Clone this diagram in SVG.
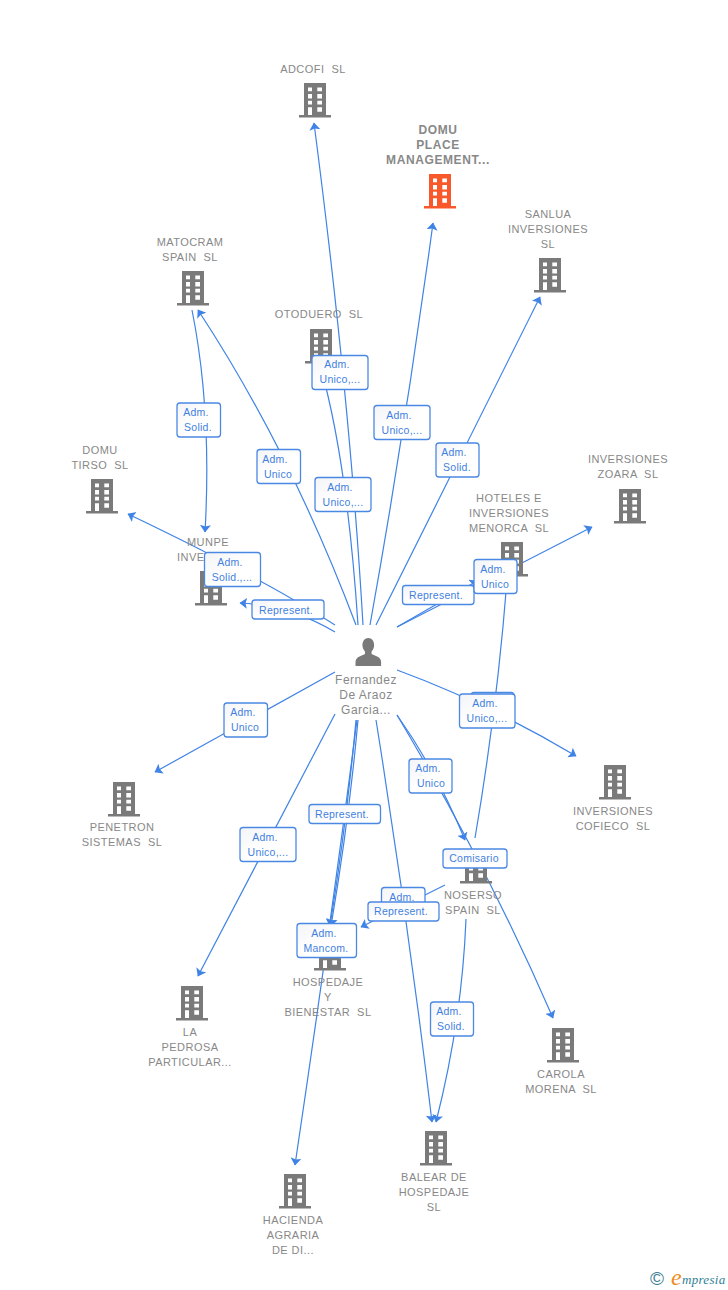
<svg xmlns="http://www.w3.org/2000/svg" width="728" height="1290" viewBox="0 0 728 1290">
<style>
.n{font:11px "Liberation Sans",Arial,sans-serif;fill:#888;text-anchor:middle;letter-spacing:.45px;white-space:pre}
.b{font:bold 12px "Liberation Sans",Arial,sans-serif;fill:#888;text-anchor:middle;letter-spacing:.6px}
.f{font:12px "Liberation Sans",Arial,sans-serif;fill:#888;text-anchor:middle;letter-spacing:.5px}
.c{fill:none;stroke:#3f83e6;stroke-width:1.2;marker-end:url(#a)}
.p{fill:none;stroke:#3f83e6;stroke-width:1.2}
.r{fill:url(#g);stroke:#4a88e4;stroke-width:1.3}
.t{font:10.500px "Liberation Sans",Arial,sans-serif;fill:#3f7fe0;text-anchor:middle;letter-spacing:.25px}
</style>
<defs>
<marker id="a" markerUnits="userSpaceOnUse" markerWidth="12" markerHeight="12" refX="7" refY="5.500" orient="auto"><path d="M0 0L7.500 5.500L0 11L1.500 5.500Z" fill="#3f83e6"/></marker>
<linearGradient id="g" x1="0" y1="0" x2="1" y2="1"><stop offset="0" stop-color="#f3f4f7"/><stop offset=".5" stop-color="#fff"/></linearGradient>
<path id="w" d="M9 4.500h4v3.700h-4zM18.300 4.500h4.700v3.700h-4.700zM9 11h4v4.500h-4zM18.300 11h4.700v4.500h-4.700zM9 17.700h4v3.700h-4zM18.300 17.700h4.700v3.700h-4.700zM9 24.300h4v7.700h-4zM18.300 24.300h4.700v4.400h-4.700z"/>
<g id="bd"><path d="M5 0h22v32h5v2.500h-32v-2.500h5z" fill="#7a7a7a"/><use href="#w" fill="#fff"/></g>
<g id="bo"><path d="M5 0h22v32h5v2.500h-32v-2.500h5z" fill="#f9582b"/><use href="#w" fill="#fff"/></g>
</defs>
<g id="connectors">
<path class="c" d="M363 625Q350 400 314 123"/>
<path class="c" d="M370 625Q406 424 433 223"/>
<path class="c" d="M376 625L540 297"/>
<path class="c" d="M356 625Q290 450 198 310"/>
<path class="c" d="M358 625Q347 459 320 365"/>
<path class="c" d="M192 310Q212 410 205 532"/>
<path class="c" d="M335 625Q262 578 128 514"/>
<path class="c" d="M335 632Q290 605 240 603"/>
<path class="c" d="M397 627Q435 605 477 581"/>
<path class="c" d="M397 627L592 527"/>
<path class="c" d="M397 670Q487 703 576 756"/>
<path class="p" d="M507 580Q497 709 475 838"/>
<path class="c" d="M335 672L155 772"/>
<path class="c" d="M335 714L198 976"/>
<path class="c" d="M358 720Q349 820 331 926"/>
<path class="c" d="M356 720Q347 820 330 926"/>
<path class="c" d="M357 720Q330 930 295 1165"/>
<path class="c" d="M376 720Q408 920 432 1122"/>
<path class="c" d="M466 919Q462 1020 436 1122"/>
<path class="c" d="M397 715Q436 770 465 840"/>
<path class="c" d="M397 715Q487 866 553 1018"/>
<path class="c" d="M445 885L361 927"/>
</g>
<g id="n1"><use href="#bd" x="299" y="83"/><text class="n" x="313" y="73">ADCOFI  SL</text></g>
<g id="n2"><use href="#bo" x="424" y="174"/><text class="b" x="438" y="134">DOMU</text><text class="b" x="438" y="149">PLACE</text><text class="b" x="438" y="164">MANAGEMENT...</text></g>
<g id="n3"><use href="#bd" x="534" y="258"/><text class="n" x="548" y="218">SANLUA</text><text class="n" x="548" y="233">INVERSIONES</text><text class="n" x="548" y="248">SL</text></g>
<g id="n4"><use href="#bd" x="177" y="271"/><text class="n" x="190" y="246">MATOCRAM</text><text class="n" x="190" y="261">SPAIN  SL</text></g>
<g id="n5"><use href="#bd" x="305" y="329"/><text class="n" x="319" y="318">OTODUERO  SL</text></g>
<g id="n6"><use href="#bd" x="86" y="479"/><text class="n" x="100" y="454">DOMU</text><text class="n" x="100" y="469">TIRSO  SL</text></g>
<g id="n7"><use href="#bd" x="195" y="571"/><text class="n" x="208" y="546">MUNPE</text><text class="n" x="177" y="561" style="text-anchor:start">INVE</text></g>
<g id="n8"><use href="#bd" x="496" y="542"/><text class="n" x="509" y="502">HOTELES E</text><text class="n" x="509" y="517">INVERSIONES</text><text class="n" x="509" y="532">MENORCA  SL</text></g>
<g id="n9"><use href="#bd" x="614" y="489"/><text class="n" x="628" y="463">INVERSIONES</text><text class="n" x="628" y="478">ZOARA  SL</text></g>
<g id="n10"><use href="#bd" x="599" y="765"/><text class="n" x="613" y="815">INVERSIONES</text><text class="n" x="613" y="830">COFIECO  SL</text></g>
<g id="n11"><use href="#bd" x="108" y="782"/><text class="n" x="122" y="831">PENETRON</text><text class="n" x="122" y="846">SISTEMAS  SL</text></g>
<g id="n12"><use href="#bd" x="176" y="986"/><text class="n" x="190" y="1036">LA</text><text class="n" x="190" y="1051">PEDROSA</text><text class="n" x="190" y="1066">PARTICULAR...</text></g>
<g id="n13"><use href="#bd" x="314" y="936"/><text class="n" x="328" y="986">HOSPEDAJE</text><text class="n" x="328" y="1001">Y</text><text class="n" x="328" y="1016">BIENESTAR  SL</text></g>
<g id="n14"><use href="#bd" x="460" y="849"/><text class="n" x="473" y="899">NOSERSO</text><text class="n" x="473" y="914">SPAIN  SL</text></g>
<g id="n15"><use href="#bd" x="547" y="1028"/><text class="n" x="561" y="1078">CAROLA</text><text class="n" x="561" y="1093">MORENA  SL</text></g>
<g id="n16"><use href="#bd" x="420" y="1131"/><text class="n" x="434" y="1181">BALEAR DE</text><text class="n" x="434" y="1196">HOSPEDAJE</text><text class="n" x="434" y="1211">SL</text></g>
<g id="n17"><use href="#bd" x="279" y="1174"/><text class="n" x="293" y="1224">HACIENDA</text><text class="n" x="293" y="1239">AGRARIA</text><text class="n" x="293" y="1254">DE DI...</text></g>
<g id="person"><path d="M355.500 666v-4c0-3 2-4.500 4-5.500l5.500-2.500v-2.500c-1.500-1.500-2.200-3.500-2.500-5.500-.3-4 1.500-8 5.800-8s6.100 4 5.800 8c-.3 2-1 4-2.500 5.500v2.500l5.500 2.500c2 1 4 2.500 4 5.500v4z" fill="#7a7a7a"/><text class="f" x="366" y="684">Fernandez</text><text class="f" x="366" y="699">De Araoz</text><text class="f" x="366" y="714">Garcia...</text></g>
<g id="labels">
<g><rect class="r" x="312" y="355.500" width="56" height="34" rx="3"/><text class="t" x="337" y="368">Adm.</text><text class="t" x="340" y="383">Unico,...</text></g>
<g><rect class="r" x="374" y="405.500" width="56" height="34" rx="3"/><text class="t" x="399" y="419">Adm.</text><text class="t" x="402" y="434">Unico,...</text></g>
<g><rect class="r" x="177" y="403" width="43.500" height="34" rx="3"/><text class="t" x="196" y="416">Adm.</text><text class="t" x="198" y="431">Solid.</text></g>
<g><rect class="r" x="257" y="449.500" width="43.500" height="34" rx="3"/><text class="t" x="275" y="463">Adm.</text><text class="t" x="278" y="478">Unico</text></g>
<g><rect class="r" x="315" y="477.500" width="56" height="34" rx="3"/><text class="t" x="340" y="491">Adm.</text><text class="t" x="343" y="506">Unico,...</text></g>
<g><rect class="r" x="436" y="443" width="43" height="34" rx="3"/><text class="t" x="454" y="456">Adm.</text><text class="t" x="457" y="471">Solid.</text></g>
<g><rect class="r" x="204.500" y="552.500" width="56" height="34" rx="3"/><text class="t" x="230" y="566">Adm.</text><text class="t" x="232" y="581">Solid.,...</text></g>
<g><rect class="r" x="252" y="600" width="72" height="19" rx="3"/><text class="t" x="286" y="613.500">Represent.</text></g>
<g><rect class="r" x="402.500" y="585.500" width="71.500" height="19" rx="3"/><text class="t" x="436" y="599">Represent.</text></g>
<g><rect class="r" x="474" y="559.500" width="43" height="34" rx="3"/><text class="t" x="493" y="573">Adm.</text><text class="t" x="495" y="588">Unico</text></g>
<g><rect class="r" x="471" y="692.500" width="43" height="20" rx="3"/><rect class="r" x="459.500" y="694" width="55.500" height="34" rx="3"/><text class="t" x="485" y="707">Adm.</text><text class="t" x="487" y="722">Unico,...</text></g>
<g><rect class="r" x="224" y="703" width="43.500" height="34" rx="3"/><text class="t" x="243" y="716">Adm.</text><text class="t" x="245" y="731">Unico</text></g>
<g><rect class="r" x="409" y="759" width="43" height="34" rx="3"/><text class="t" x="428" y="772">Adm.</text><text class="t" x="431" y="787">Unico</text></g>
<g><rect class="r" x="309" y="804.500" width="71.500" height="19" rx="3"/><text class="t" x="342" y="817.500">Represent.</text></g>
<g><rect class="r" x="240" y="827.500" width="56" height="34" rx="3"/><text class="t" x="265" y="841">Adm.</text><text class="t" x="268" y="856">Unico,...</text></g>
<g><rect class="r" x="443" y="849" width="64" height="19" rx="3"/><text class="t" x="474" y="862">Comisario</text></g>
<g><rect class="r" x="381.500" y="887.500" width="43.500" height="30" rx="3"/><text class="t" x="402" y="901">Adm.</text></g>
<g><rect class="r" x="368" y="902" width="71" height="19" rx="3"/><text class="t" x="401" y="915">Represent.</text></g>
<g><rect class="r" x="297" y="923.500" width="59.500" height="34" rx="3"/><text class="t" x="324" y="937">Adm.</text><text class="t" x="326" y="952">Mancom.</text></g>
<g><rect class="r" x="430.500" y="1002" width="43" height="34" rx="3"/><text class="t" x="449" y="1015">Adm.</text><text class="t" x="451" y="1030">Solid.</text></g>
</g>
<g id="logo"><text x="650" y="1285" style="font:19px 'Liberation Sans',sans-serif;fill:#3f7f95">©</text><text x="671" y="1285" style="font:italic 24px 'Liberation Serif',serif;fill:#f08a1d">e</text><text x="682" y="1284" style="font:italic 13px 'Liberation Serif',serif;fill:#2f7f95;letter-spacing:.3px">mpresia</text></g>
</svg>
